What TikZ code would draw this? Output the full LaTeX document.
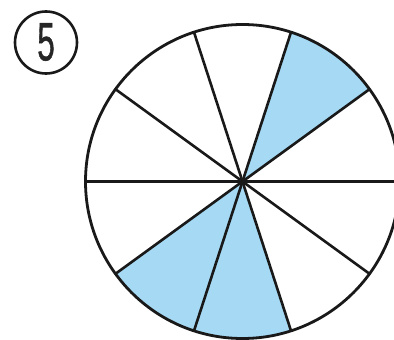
\documentclass[tikz,border=0pt]{standalone}
\usepackage{fontspec}
\setmainfont{Liberation Sans}
\newfontfamily\digitfont{Liberation Sans}[FakeBold=1.2]
\usetikzlibrary{calc}
\definecolor{paleblue}{RGB}{166,218,244}
\begin{document}
\begin{tikzpicture}[x=1pt,y=-1pt,
  rim/.style={draw=black!90,line width=2.8pt},
  spoke/.style={draw=black!90,line width=2.6pt,line cap=round},
  piece/.style={fill=paleblue,draw=none}]
\useasboundingbox (0,0) rectangle (394,340);
\clip (0,0) rectangle (394,340);
\coordinate (c) at (242.5,181.5);
% shaded sectors
\foreach \a in {36,216,252}{
  \path[piece] (c) -- ++({157*cos(\a)},{-157*sin(\a)})
    arc[start angle=-\a,end angle=-\a-36,radius=157] -- cycle;
}
\foreach \a in {0,36,...,324}{
  \coordinate (e\a) at ($(c)+({157*cos(\a)},{-157*sin(\a)})$);
}
\foreach \a in {0,36,72,108,144}{
  \pgfmathtruncatemacro{\b}{\a+180}
  \draw[spoke] (e\a) -- (e\b);
}
\node[rim,circle,minimum size=314pt,inner sep=0pt] (wheel) at (c) {};
\node[draw=black!90,line width=2.6pt,circle,minimum size=62pt,inner sep=0pt] (num) at (46,42.5) {};
\node[inner sep=0pt,xscale=0.58,font=\fontsize{54}{54}\digitfont,text=black!85] (five) at (46,42) {5};
\end{tikzpicture}
\end{document}
